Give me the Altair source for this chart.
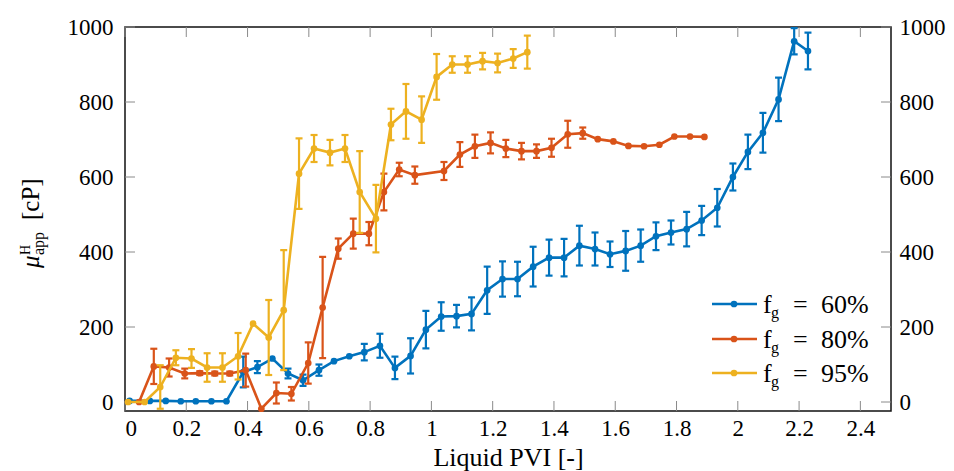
import altair as alt
import pandas as pd

# ---------------- data ----------------
x_ticks = [0, 0.2, 0.4, 0.6, 0.8, 1, 1.2, 1.4, 1.6, 1.8, 2, 2.2, 2.4]
y_ticks = [0, 200, 400, 600, 800, 1000]

blue_x = [0.015, 0.081, 0.133, 0.182, 0.231, 0.282, 0.331, 0.386, 0.432, 0.481, 0.532, 0.581, 0.633,
          0.682, 0.732, 0.781, 0.832, 0.881, 0.932, 0.982, 1.032, 1.082, 1.131, 1.182, 1.232, 1.281,
          1.332, 1.384, 1.433, 1.483, 1.534, 1.583, 1.634, 1.683, 1.733, 1.782, 1.833, 1.882, 1.933,
          1.984, 2.033, 2.082, 2.133, 2.184, 2.229]
blue_y = [3, 3, 3, 2, 2, 2, 2, 80, 93, 116, 76, 58, 85,
          109, 122, 133, 150, 91, 123, 193, 228, 229, 235, 298, 328, 328,
          361, 385, 385, 417, 408, 394, 403, 417, 442, 452, 461, 484, 518,
          600, 667, 718, 807, 962, 936]
blue_err = [0, 0, 0, 0, 0, 0, 0, 41, 16, 0, 13, 15, 15,
            0, 0, 22, 32, 30, 47, 50, 38, 30, 44, 63, 47, 46,
            53, 48, 50, 53, 44, 34, 53, 43, 37, 32, 46, 39, 50,
            36, 46, 53, 58, 35, 49]

orange_x = [0.046, 0.094, 0.144, 0.195, 0.244, 0.293, 0.342, 0.394, 0.445, 0.494, 0.543, 0.598, 0.645,
            0.696, 0.745, 0.796, 0.845, 0.895, 0.946, 1.041, 1.093, 1.142, 1.193, 1.243, 1.294, 1.343,
            1.392, 1.445, 1.494, 1.543, 1.594, 1.643, 1.694, 1.744, 1.793, 1.844, 1.891]
orange_y = [0, 95, 92, 76, 77, 76, 76, 85, -18, 24, 22, 104, 252,
            409, 449, 449, 560, 620, 605, 616, 660, 682, 691, 676, 669, 669,
            678, 714, 717, 701, 695, 683, 682, 686, 708, 708, 707]
orange_err = [0, 47, 24, 13, 5, 5, 5, 44, 0, 28, 18, 55, 135,
              27, 40, 31, 49, 18, 23, 24, 33, 31, 28, 23, 22, 18,
              24, 36, 15, 0, 0, 0, 0, 0, 0, 0, 0]

yellow_x = [0.01, 0.064, 0.115, 0.166, 0.217, 0.268, 0.318, 0.369, 0.418, 0.469, 0.518, 0.568, 0.617,
            0.669, 0.718, 0.766, 0.819, 0.868, 0.917, 0.968, 1.017, 1.068, 1.118, 1.167, 1.216, 1.267,
            1.313]
yellow_y = [0, 0, 40, 118, 116, 92, 92, 122, 209, 172, 245, 609, 676,
            665, 676, 560, 489, 740, 775, 753, 867, 900, 900, 909, 904, 916,
            933]
yellow_err = [0, 0, 58, 20, 25, 38, 38, 62, 0, 100, 160, 94, 36,
              34, 36, 109, 90, 42, 73, 62, 61, 22, 22, 22, 25, 25,
              44]

legend_pct = ["60%", "80%", "95%"]
colors = ["#0072BD", "#D95319", "#EDB120"]

# ---------------- layout ----------------
W, H = 766, 384
FONT = "Liberation Serif"
xs = alt.Scale(domain=[0, 2.5], nice=False, zero=False)
ys = alt.Scale(domain=[-24, 1000], nice=False, zero=False)
TICK = "#8a8a8a"
TL = 10

layers = []

# axes + inward ticks
xt = pd.DataFrame({"v": x_ticks})
yt = pd.DataFrame({"v": y_ticks})
layers.append(alt.Chart(xt).mark_rule(color=TICK, strokeWidth=1).encode(
    x=alt.X("v:Q", scale=xs, axis=alt.Axis(values=x_ticks, format="~g", title="Liquid PVI [-]",
                                           labelPadding=6, titlePadding=4, titleFontSize=26)),
    y=alt.value(H), y2=alt.value(H - TL)))
layers.append(alt.Chart(xt).mark_rule(color=TICK, strokeWidth=1).encode(
    x=alt.X("v:Q", scale=xs, axis=None), y=alt.value(0), y2=alt.value(TL)))
layers.append(alt.Chart(yt).mark_rule(color=TICK, strokeWidth=1).encode(
    y=alt.Y("v:Q", scale=ys, axis=alt.Axis(values=y_ticks, format="d", title=None, orient="left",
                                           labelPadding=12)),
    x=alt.value(0), x2=alt.value(TL)))
layers.append(alt.Chart(yt).mark_rule(color=TICK, strokeWidth=1).encode(
    y=alt.Y("v:Q", scale=ys, axis=alt.Axis(values=y_ticks, format="d", title=None, orient="right",
                                           labelPadding=8)),
    x=alt.value(W - TL), x2=alt.value(W)))

series = [
    (blue_x, blue_y, blue_err, colors[0]),
    (orange_x, orange_y, orange_err, colors[1]),
    (yellow_x, yellow_y, yellow_err, colors[2]),
]
X = alt.X("x:Q", scale=xs, axis=None)
for xv, yv, ev, col in series:
    df = pd.DataFrame({"x": xv, "y": yv, "e": ev})
    df["lo"] = df["y"] - df["e"]
    df["hi"] = df["y"] + df["e"]
    base = alt.Chart(df)
    eb = base.transform_filter("datum.e > 0")
    layers.append(eb.mark_rule(color=col, strokeWidth=2.2).encode(
        x=X, y=alt.Y("lo:Q", scale=ys, axis=None), y2="hi:Q"))
    for c in ["lo", "hi"]:
        layers.append(eb.mark_tick(color=col, orient="horizontal", size=7, thickness=2.2, opacity=1).encode(
            x=X, y=alt.Y(c + ":Q", scale=ys, axis=None)))
    layers.append(base.mark_line(color=col, strokeWidth=2.6).encode(
        x=X, y=alt.Y("y:Q", scale=ys, axis=None)))
    layers.append(base.mark_circle(color=col, size=45, opacity=1).encode(
        x=X, y=alt.Y("y:Q", scale=ys, axis=None)))

# legend
rows = [277, 312, 346]
one = pd.DataFrame({"a": [0]})
for pct, col, ry in zip(legend_pct, colors, rows):
    layers.append(alt.Chart(one).mark_rule(color=col, strokeWidth=2.6).encode(
        x=alt.value(587), x2=alt.value(632), y=alt.value(ry)))
    layers.append(alt.Chart(one).mark_circle(color=col, size=45, opacity=1).encode(
        x=alt.value(609), y=alt.value(ry)))
    for txt, xx, dy, fs in [("f", 638, 9, 26), ("g", 646, 14, 16), ("=", 668, 9, 26), (pct, 696, 9, 26)]:
        layers.append(alt.Chart(pd.DataFrame({"t": [txt]})).mark_text(
            font=FONT, fontSize=fs, align="left", baseline="alphabetic", color="black").encode(
            text="t:N", x=alt.value(xx), y=alt.value(ry + dy)))

# y title: mu^H_app [cP]
for txt, xx, yy, fs, style in [("μ", -86, 241, 25, "italic"), ("H", -95, 228, 14, "normal"),
                               ("app", -81, 228, 16, "normal"), ("[cP]", -86, 193, 25, "normal")]:
    layers.append(alt.Chart(pd.DataFrame({"t": [txt]})).mark_text(
        font=FONT, fontSize=fs, fontStyle=style, angle=270, align="left", baseline="alphabetic",
        color="black").encode(text="t:N", x=alt.value(xx), y=alt.value(yy)))

chart = alt.layer(*layers).resolve_axis(x="independent", y="independent").properties(
    width=W, height=H,
    padding={"left": 117, "top": 19, "right": 55, "bottom": 70},
    autosize=alt.AutoSizeParams(type="none"),
).configure_view(stroke="#111", strokeWidth=1.5).configure_axis(
    labelFont=FONT, labelFontSize=23, labelColor="black", titleFont=FONT, titleFontSize=23,
    titleFontWeight="normal", titleColor="black", domain=False, ticks=False, grid=False,
)

chart.save("out.html", embed_options={"renderer": "svg", "actions": False})
